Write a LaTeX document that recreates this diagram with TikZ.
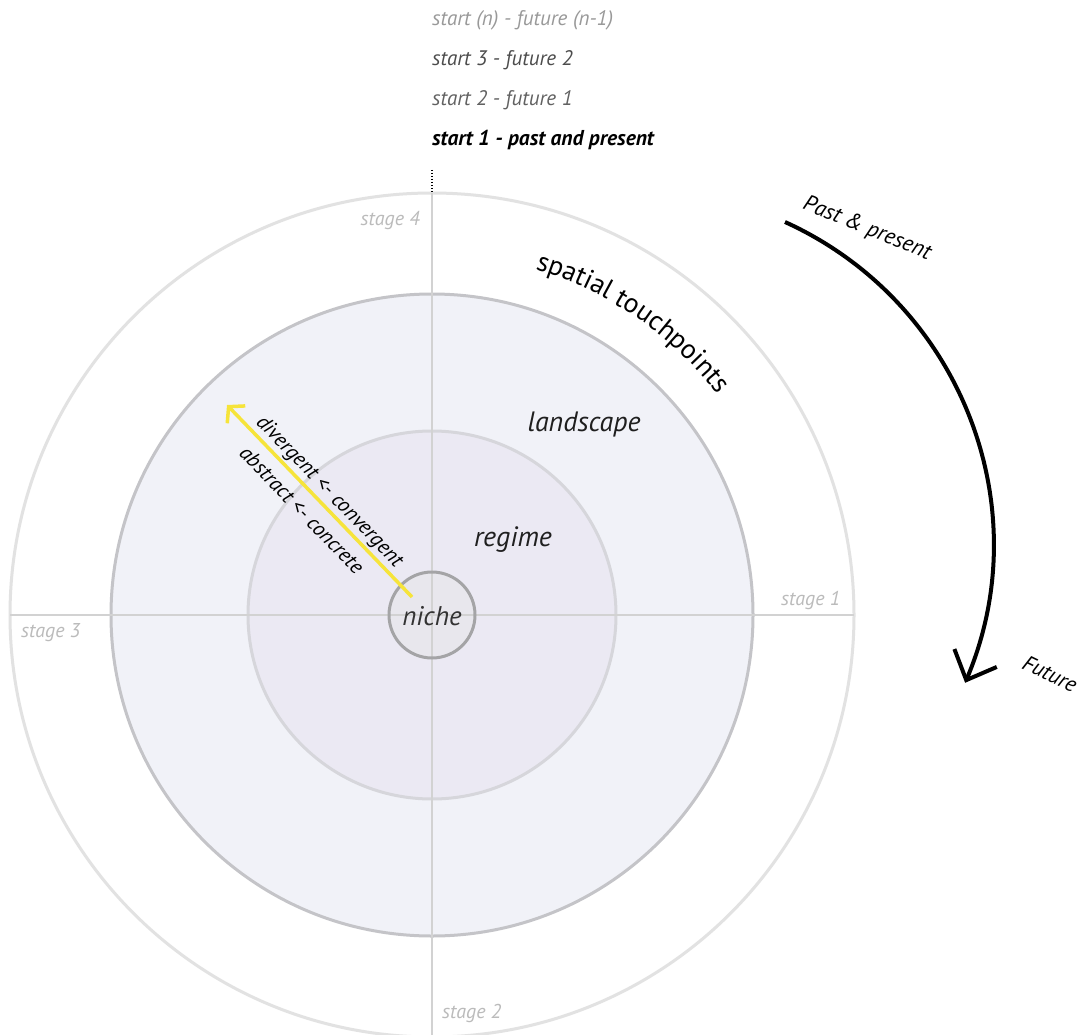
\documentclass[tikz,border=0pt]{standalone}
\usepackage{fontspec}
\setmainfont{PT Sans}
\usetikzlibrary{arrows.meta,decorations.text}

\definecolor{ringouter}{HTML}{E2E2E2}
\definecolor{ringland}{HTML}{C4C4C8}
\definecolor{fillland}{HTML}{F1F2F8}
\definecolor{ringreg}{HTML}{D6D6DB}
\definecolor{fillreg}{HTML}{EBE9F3}
\definecolor{ringniche}{HTML}{A4A4A6}
\definecolor{fillniche}{HTML}{E8E7ED}
\definecolor{axisgrey}{HTML}{D2D2D2}
\definecolor{stagegrey}{HTML}{BBBBBB}
\definecolor{arrowyellow}{HTML}{F6E43A}

\tikzset{
  fsz/.style={font=\fontsize{#1}{#1}\selectfont\itshape},
  ring/.style={line width=3pt},
  axisline/.style={axisgrey, line width=1.5pt},
  stagelabel/.style={fsz=20, text=stagegrey, inner sep=0pt},
  startlabel/.style={fsz=21, anchor=west, inner sep=0pt},
  levellabel/.style={fsz=28, text=black!88, inner sep=0pt},
  sidelabel/.style={fsz=21, inner sep=0pt},
}

\begin{document}
\begin{tikzpicture}[x=1pt,y=-1pt]
\useasboundingbox[fill=white] (0,0) rectangle (1086,1035);
\coordinate (c) at (432,615);

% nested rings
\draw[ring, ringouter, fill=white] (c) circle[radius=422];
\draw[ring, ringland, fill=fillland] (c) circle[radius=321];
\draw[ring, ringreg, fill=fillreg] (c) circle[radius=184];
\fill[fillniche] (c) circle[radius=43];

% quadrant axes
\draw[axisline] (432,193) -- (432,1035);
\draw[axisline] (10,615) -- (854,615);
\draw[black, line width=1.2pt, dash pattern=on 1.5pt off 1.5pt] (432,170) -- (432,192);

% niche
\node[circle, draw=ringniche, line width=3pt, minimum size=86pt, inner sep=0pt] (niche) at (c) {};
\node[levellabel, fsz=27, text=black!80] (nichetxt) at (432,616) {niche};
\node[levellabel] (regime) at (513,540) {regime};
\node[levellabel] (landscape) at (584,424) {landscape};

% spatial touchpoints along the outer band
\path[decorate, decoration={text along path, text align=center,
  text={|\fontsize{27.5}{27.5}\selectfont|spatial touchpoints}}]
  (c) ++(-82.5:361) arc[start angle=-82.5, end angle=-28.5, radius=361];

% stage labels
\node[stagelabel, anchor=east] (s4) at (420,221) {stage 4};
\node[stagelabel, anchor=west] (s1) at (781,600) {stage 1};
\node[stagelabel, anchor=west] (s3) at (21,633) {stage 3};
\node[stagelabel, anchor=west] (s2) at (442,1013) {stage 2};

% start / future list
\node[startlabel, text=black!40] (sn) at (432,20) {start (n) - future (n-1)};
\node[startlabel, text=black!70] (s3f) at (432,60) {start 3 - future 2};
\node[startlabel, text=black!62] (s2f) at (432,100) {start 2 - future 1};
\node[startlabel, font=\fontsize{21.5}{21.5}\selectfont\bfseries\itshape] (s1f) at (432,140) {start 1 - past and present};

% divergence arrow from the niche outward
\coordinate (yfrom) at (412,597);
\coordinate (yto) at (227,405);
\draw[arrowyellow, line width=3.5pt, -{Straight Barb[length=11pt,width=25pt]}] (yfrom) -- (yto);
\node[sidelabel, rotate=-46] (div) at (329,492) {divergent <- convergent};
\node[sidelabel, rotate=-46] (abs) at (302,510) {abstract <- concrete};

% time arrow
\coordinate (past) at (785,222);
\draw[line width=4pt, -{Straight Barb[length=24pt,width=46pt]}] (past) arc[start angle=-65.6, end angle=22.9, radius=354.5] coordinate (fut);
\node[sidelabel, fsz=22.5, rotate=-22] (pastlbl) at (867,229) {Past \& present};
\node[sidelabel, fsz=22, rotate=-26] (futlbl) at (1050,674) {Future};
\end{tikzpicture}
\end{document}
